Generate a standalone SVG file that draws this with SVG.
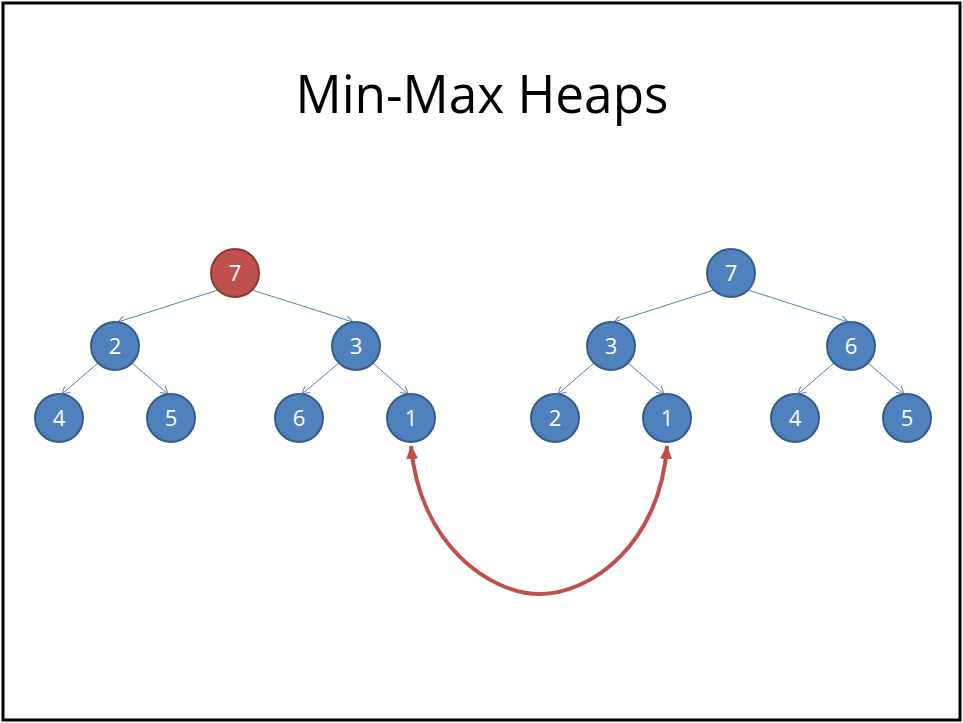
<svg xmlns="http://www.w3.org/2000/svg" width="963" height="723" viewBox="0 0 963 723">
<style>
.n{fill:#4F81BD;stroke:#385D8A;stroke-width:2}
.r{fill:#C0504D;stroke:#8C3836;stroke-width:2}
.t{font-family:"Open Sans","Liberation Sans",sans-serif;font-size:22px;fill:#fff;text-anchor:middle}
.e{stroke:#4F81BD;stroke-width:1;fill:none;marker-end:url(#open)}
</style>
<defs>
<marker id="open" markerWidth="10" markerHeight="10" refX="8" refY="5" orient="auto" markerUnits="userSpaceOnUse">
<path d="M1,1 L8,5 L1,9" fill="none" stroke="#4F81BD" stroke-width="1"/>
</marker>
<marker id="red" markerWidth="16" markerHeight="16" refX="13" refY="8" orient="auto-start-reverse" markerUnits="userSpaceOnUse">
<path d="M0,2 L14,8 L0,14 Z" fill="#C0504D"/>
</marker>
</defs>
<rect x="3" y="3" width="957" height="717" fill="#fff" stroke="#000" stroke-width="3"/>
<text x="482" y="113" font-family="'Open Sans','Liberation Sans',sans-serif" font-size="53" fill="#000" text-anchor="middle" textLength="373" lengthAdjust="spacingAndGlyphs">Min-Max Heaps</text>
<g id="connectors">
<line class="e" x1="218" y1="290" x2="118" y2="322"/>
<line class="e" x1="252" y1="290" x2="353" y2="322"/>
<line class="e" x1="98" y1="363" x2="62" y2="394"/>
<line class="e" x1="132" y1="363" x2="168" y2="394"/>
<line class="e" x1="339" y1="363" x2="302" y2="394"/>
<line class="e" x1="373" y1="363" x2="408" y2="394"/>
<line class="e" x1="714" y1="290" x2="614" y2="322"/>
<line class="e" x1="748" y1="290" x2="848" y2="322"/>
<line class="e" x1="594" y1="363" x2="558" y2="394"/>
<line class="e" x1="628" y1="363" x2="664" y2="394"/>
<line class="e" x1="834" y1="363" x2="798" y2="394"/>
<line class="e" x1="868" y1="363" x2="904" y2="394"/>
<path d="M411,446 C420,545 490,594 540,594 C590,594 660,545 667,446" fill="none" stroke="#C0504D" stroke-width="4" marker-start="url(#red)" marker-end="url(#red)"/>
</g>
<g id="n7a"><circle class="r" cx="235" cy="273" r="24"/><text class="t" x="235" y="281">7</text></g>
<g id="n2a"><circle class="n" cx="115" cy="346" r="24"/><text class="t" x="115" y="354">2</text></g>
<g id="n3a"><circle class="n" cx="356" cy="346" r="24"/><text class="t" x="356" y="354">3</text></g>
<g id="n4a"><circle class="n" cx="59" cy="418" r="24"/><text class="t" x="59" y="426">4</text></g>
<g id="n5a"><circle class="n" cx="171" cy="418" r="24"/><text class="t" x="171" y="426">5</text></g>
<g id="n6a"><circle class="n" cx="299" cy="418" r="24"/><text class="t" x="299" y="426">6</text></g>
<g id="n1a"><circle class="n" cx="411" cy="418" r="24"/><text class="t" x="411" y="426">1</text></g>
<g id="n7b"><circle class="n" cx="731" cy="273" r="24"/><text class="t" x="731" y="281">7</text></g>
<g id="n3b"><circle class="n" cx="611" cy="346" r="24"/><text class="t" x="611" y="354">3</text></g>
<g id="n6b"><circle class="n" cx="851" cy="346" r="24"/><text class="t" x="851" y="354">6</text></g>
<g id="n2b"><circle class="n" cx="555" cy="418" r="24"/><text class="t" x="555" y="426">2</text></g>
<g id="n1b"><circle class="n" cx="667" cy="418" r="24"/><text class="t" x="667" y="426">1</text></g>
<g id="n4b"><circle class="n" cx="795" cy="418" r="24"/><text class="t" x="795" y="426">4</text></g>
<g id="n5b"><circle class="n" cx="907" cy="418" r="24"/><text class="t" x="907" y="426">5</text></g>
</svg>
